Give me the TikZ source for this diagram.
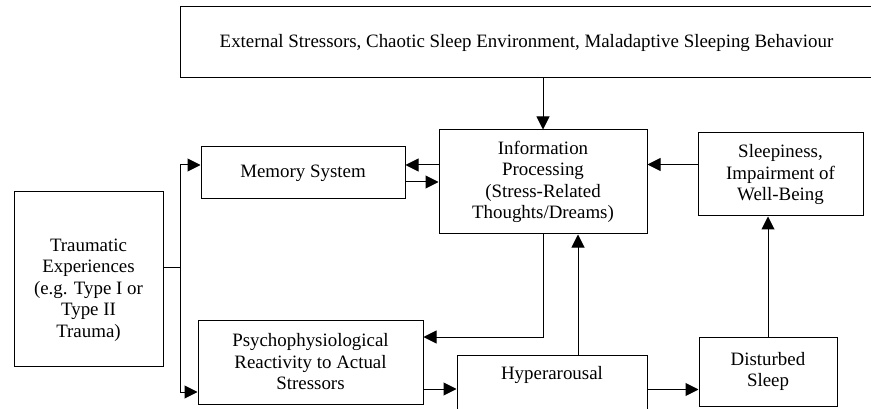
\documentclass[tikz,border=0pt]{standalone}
\usepackage{fontspec}
\setmainfont{Liberation Serif}
\usetikzlibrary{arrows.meta, positioning, calc}

\begin{document}
\begin{tikzpicture}[x=1pt, y=-1pt,
    font=\fontsize{18.9}{21.5}\selectfont,
    box/.style={draw, line width=1pt, align=center, inner sep=2pt},
    arr/.style={line width=1pt, -{Triangle[length=13pt,width=13pt]}}]
  \clip (0,0) rectangle (871,409);
  % boxes
  \node[box, minimum width=693pt, minimum height=71pt] (ext) at (526.5,42.5)
    {External Stressors, Chaotic Sleep Environment, Maladaptive Sleeping Behaviour};
  \node[box, minimum width=204pt, minimum height=52pt] (mem) at (303,173) {Memory System};
  \node[box, minimum width=208pt, minimum height=104pt] (info) at (543,182)
    {Information\\Processing\\(Stress-Related\\Thoughts/Dreams)};
  \node[box, minimum width=165pt, minimum height=83pt] (sleepy) at (780.5,174.5)
    {Sleepiness,\\Impairment of\\Well-Being};
  \node[box, minimum width=149pt, minimum height=174pt,
    label={[align=center, yshift=-11pt]center:{Traumatic\\Experiences\\(e.g. Type I or\\Type II\\Trauma)}}]
    (trauma) at (88.5,279) {};
  \node[box, minimum width=225pt, minimum height=84pt] (psycho) at (310.5,362)
    {Psychophysiological\\Reactivity to Actual\\Stressors};
  \node[box, minimum width=190pt, minimum height=80pt, anchor=north,
    label={[anchor=north, yshift=-8pt]north:Hyperarousal}] (hyper) at (552,355) {};
  \node[box, minimum width=138pt, minimum height=69pt] (dist) at (768,371.5) {Disturbed\\Sleep};
  \coordinate (split) at (180,267);
  % connectors
  \draw[arr] (info.north |- ext.south) -- (info.north);
  \draw[arr] ([yshift=17pt]info.west) -- ([yshift=8pt]mem.east);
  \draw[arr] ([yshift=-9pt]mem.east) -- ([yshift=-9pt]mem.east -| info.west);
  \draw[line width=1pt] ([yshift=12pt]trauma.east) -- (split);
  \draw[arr] (split) |- ([yshift=8pt]mem.west);
  \draw[arr] (split) |- ([yshift=-30pt]psycho.west);
  \draw[arr] (info.south) |- ([yshift=25pt]psycho.east);
  \draw[arr] ([xshift=26pt]hyper.north) -- ([xshift=26pt]hyper.north |- info.south);
  \draw[arr] ([yshift=-27pt]psycho.east) -- ([yshift=-27pt]psycho.east -| hyper.west);
  \draw[arr] ([yshift=-18pt]dist.west -| hyper.east) -- ([yshift=-18pt]dist.west);
  \draw[arr] (dist.north) -- (sleepy.south -| dist.north);
  \draw[arr] ([yshift=10pt]sleepy.west) -- ([yshift=10pt]sleepy.west -| info.east);
\end{tikzpicture}
\end{document}
